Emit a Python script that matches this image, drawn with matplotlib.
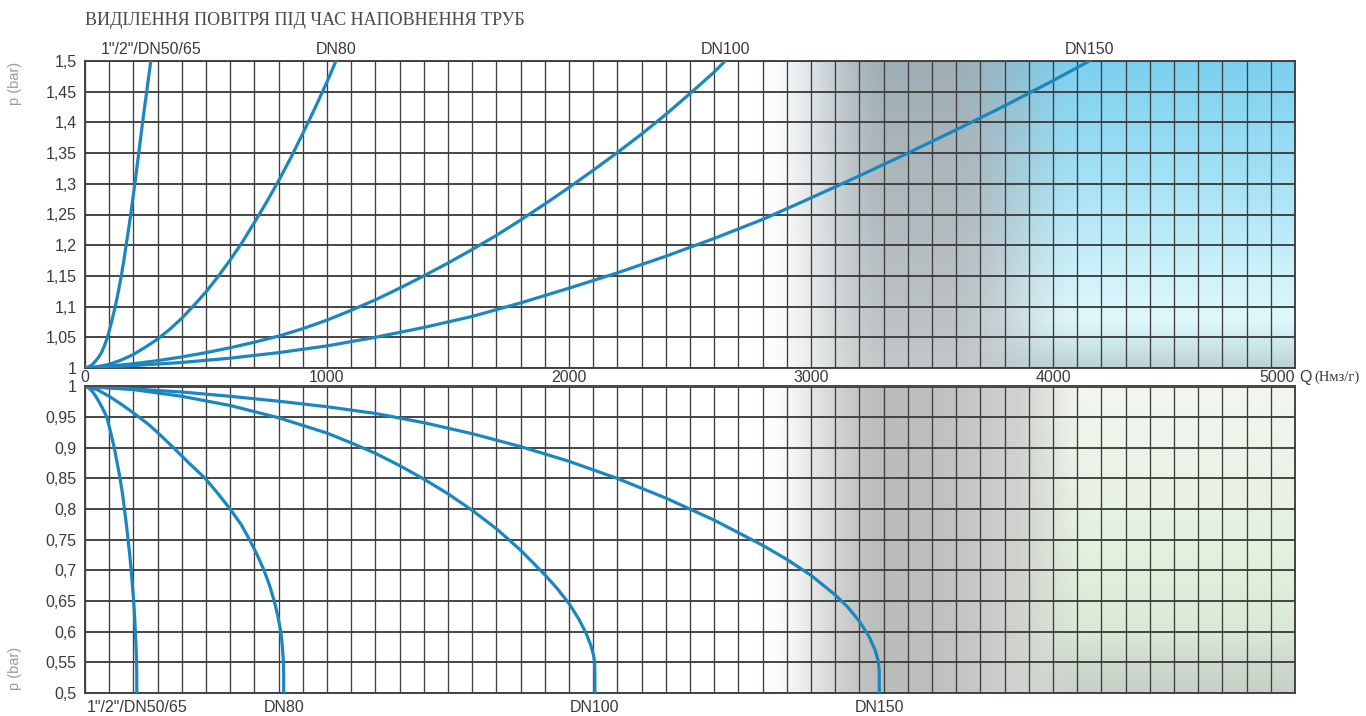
import numpy as np
import matplotlib
matplotlib.use("Agg")
import matplotlib.pyplot as plt

# ---------------------------------------------------------------- data
title = "ВИДІЛЕННЯ ПОВІТРЯ ПІД ЧАС НАПОВНЕННЯ ТРУБ"
series_names = ['1"/2"/DN50/65', "DN80", "DN100", "DN150"]

q_ticks = [0, 1000, 2000, 3000, 4000, 5000]
q_tick_labels = ["0", "1000", "2000", "3000", "4000", "5000"]
p_ticks_up = [1.0, 1.05, 1.1, 1.15, 1.2, 1.25, 1.3, 1.35, 1.4, 1.45, 1.5]
p_labels_up = ["1", "1,05", "1,1", "1,15", "1,2", "1,25", "1,3", "1,35", "1,4", "1,45", "1,5"]
p_ticks_down = [0.5, 0.55, 0.6, 0.65, 0.7, 0.75, 0.8, 0.85, 0.9, 0.95, 1.0]
p_labels_down = ["0,5", "0,55", "0,6", "0,65", "0,7", "0,75", "0,8", "0,85", "0,9", "0,95", "1"]

# overpressure branch (p > 1 bar), Q in Nm3/h
q_up_dn50 = [0, 12, 25, 35, 45, 56, 68, 80, 93, 109, 125, 137, 150, 160, 170, 180,
             189, 197, 206, 214, 222, 230, 238, 246, 255, 263, 272]
p_up_dn50 = [1.0, 1.0015, 1.004, 1.0075, 1.012, 1.0175, 1.025, 1.036, 1.05, 1.074, 1.1,
             1.123, 1.15, 1.174, 1.2, 1.226, 1.25, 1.274, 1.3, 1.325, 1.35, 1.375, 1.4,
             1.424, 1.45, 1.474, 1.5]

q_up_dn80 = [0, 50, 100, 150, 200, 250, 300, 350, 400, 450, 500, 550, 600, 650, 700,
             750, 800, 850, 900, 950, 1000, 1037]
p_up_dn80 = [1.0, 1.002, 1.006, 1.013, 1.022, 1.034, 1.047, 1.063, 1.081, 1.102, 1.124,
             1.149, 1.176, 1.205, 1.237, 1.270, 1.305, 1.342, 1.382, 1.423, 1.466, 1.5]

q_up_dn100 = [0, 100, 200, 300, 400, 500, 600, 700, 800, 900, 1000, 1100, 1200, 1300,
              1400, 1500, 1600, 1700, 1800, 1900, 2000, 2100, 2200, 2300, 2400, 2500,
              2600, 2645]
p_up_dn100 = [1.0, 1.003, 1.007, 1.012, 1.018, 1.025, 1.033, 1.042, 1.052, 1.064, 1.078,
              1.094, 1.111, 1.130, 1.150, 1.171, 1.193, 1.216, 1.241, 1.267, 1.294, 1.322,
              1.351, 1.381, 1.413, 1.447, 1.482, 1.5]

q_up_dn150 = [0, 200, 400, 600, 800, 1000, 1200, 1400, 1600, 1800, 2000, 2200, 2400,
              2600, 2800, 3000, 3200, 3400, 3600, 3800, 4000, 4150]
p_up_dn150 = [1.0, 1.004, 1.009, 1.016, 1.025, 1.036, 1.050, 1.066, 1.084, 1.106, 1.130,
              1.155, 1.182, 1.211, 1.242, 1.277, 1.313, 1.350, 1.388, 1.427, 1.468, 1.5]

# vacuum branch (p < 1 bar)
q_down_dn50 = [0, 10, 20, 30, 41, 52, 65, 77, 90, 105, 121, 133, 145, 155, 163, 171,
               178, 185, 191, 196, 201, 205, 208, 211, 213, 214, 214]
p_down_dn50 = [1.0, 0.999, 0.996, 0.992, 0.986, 0.979, 0.97, 0.961, 0.95, 0.927, 0.9,
               0.875, 0.85, 0.825, 0.8, 0.775, 0.75, 0.725, 0.7, 0.675, 0.65, 0.625, 0.6,
               0.575, 0.55, 0.53, 0.5]

q_down_dn80 = [0, 50, 100, 150, 200, 260, 300, 366, 430, 497, 550, 600, 645, 680, 712,
               740, 763, 782, 797, 809, 816, 820, 821, 821]
p_down_dn80 = [1.0, 0.995, 0.984, 0.971, 0.957, 0.939, 0.925, 0.9, 0.875, 0.85, 0.825,
               0.8, 0.775, 0.75, 0.725, 0.7, 0.675, 0.65, 0.625, 0.6, 0.575, 0.55, 0.53, 0.5]

q_down_dn100 = [0, 200, 400, 600, 800, 1000, 1100, 1200, 1300, 1400, 1500, 1600, 1700,
                1800, 1900, 1950, 2000, 2040, 2070, 2090, 2102, 2106, 2107, 2107]
p_down_dn100 = [1.0, 0.995, 0.984, 0.969, 0.949, 0.924, 0.908, 0.891, 0.871, 0.849, 0.825,
                0.798, 0.768, 0.733, 0.693, 0.671, 0.646, 0.621, 0.598, 0.578, 0.561, 0.55,
                0.53, 0.5]

q_down_dn150 = [0, 200, 400, 600, 800, 1000, 1200, 1400, 1600, 1800, 2000, 2200, 2400,
                2600, 2800, 2900, 3000, 3100, 3150, 3200, 3240, 3265, 3278, 3282, 3282]
p_down_dn150 = [1.0, 0.996, 0.991, 0.984, 0.976, 0.967, 0.956, 0.941, 0.923, 0.902, 0.878,
                0.850, 0.818, 0.782, 0.741, 0.718, 0.692, 0.660, 0.641, 0.617, 0.592, 0.570,
                0.552, 0.535, 0.5]

up_series = [(q_up_dn50, p_up_dn50), (q_up_dn80, p_up_dn80),
             (q_up_dn100, p_up_dn100), (q_up_dn150, p_up_dn150)]
down_series = [(q_down_dn50, p_down_dn50), (q_down_dn80, p_down_dn80),
               (q_down_dn100, p_down_dn100), (q_down_dn150, p_down_dn150)]

# ---------------------------------------------------------------- style
SANS = "Liberation Sans"
SERIF = "Liberation Serif"
CURVE = "#1a87c0"
GRID = "#3e3e3e"
TEXT = "#3a3a3a"
FS = 11.5


def smoothstep(x, a, b):
    t = np.clip((x - a) / (b - a), 0, 1)
    return t * t * (3 - 2 * t)


def ramp(v, knots, colors):
    c = np.asarray(colors, float) / 255.0
    return np.stack([np.interp(v, knots, c[:, i]) for i in range(3)], axis=-1)


def shade_top(q, p):
    white = np.ones(q.shape + (3,))
    grey = ramp(p, [1.0, 1.5], [(194, 199, 200), (158, 174, 182)])
    blue = ramp(p, [1.0, 1.04, 1.08, 1.15, 1.3, 1.5],
                [(188, 210, 212), (206, 233, 237), (222, 248, 252),
                 (206, 242, 250), (166, 226, 245), (122, 208, 240)])
    g = smoothstep(q, 2780, 3330)[..., None]
    b = smoothstep(q, 3550, 4150)[..., None]
    img = white * (1 - g) + grey * g
    return img * (1 - b) + blue * b


def shade_bottom(q, p):
    white = np.ones(q.shape + (3,))
    grey = ramp(q, [3300, 3500, 3950], [(186, 187, 187), (190, 191, 190), (212, 215, 210)])
    green = ramp(p, [0.5, 0.55, 0.6, 0.7, 0.85, 1.0],
                 [(198, 208, 198), (207, 219, 205), (218, 233, 212),
                  (225, 240, 218), (234, 244, 230), (242, 246, 239)])
    g = smoothstep(q, 2780, 3330)[..., None]
    b = smoothstep(q, 3850, 4150)[..., None]
    img = white * (1 - g) + grey * g
    return img * (1 - b) + green * b


fig = plt.figure(figsize=(13.66, 7.16), dpi=100)
W, H = 1366, 716
ax_up = fig.add_axes([85 / W, 1 - 368 / H, 1210 / W, 307 / H])
ax_dn = fig.add_axes([85 / W, 1 - 693 / H, 1210 / W, 306.5 / H])

qq = np.linspace(0, 5000, 1000)
for ax, (lo, hi), shade in [(ax_up, (1.0, 1.5), shade_top), (ax_dn, (0.5, 1.0), shade_bottom)]:
    pp = np.linspace(lo, hi, 300)
    Q, P = np.meshgrid(qq, pp)
    ax.imshow(shade(Q, P), extent=[0, 5000, lo, hi], origin="lower",
              aspect="auto", interpolation="bilinear", zorder=0)
    ax.set_xlim(0, 5000)
    ax.set_ylim(lo, hi)
    for q in range(0, 5001, 100):
        ax.axvline(q, color=GRID, lw=0.95, zorder=1)
    for k in range(11):
        ax.axhline(lo + k * 0.05, color=GRID, lw=1.35, zorder=1)
    for s in ax.spines.values():
        s.set_color(GRID)
        s.set_linewidth(1.35)
    ax.tick_params(length=0, labelsize=FS, labelcolor=TEXT)

# overpressure panel
for (q, p), name in zip(up_series, series_names):
    ax_up.plot(q, p, color=CURVE, lw=2.3, solid_joinstyle="round", zorder=3)
    ax_up.annotate(name, xy=(q[-1], p[-1]), xytext=(0, 8.5), textcoords="offset points",
                   ha="center", va="center", fontsize=FS, color=TEXT, family=SANS,
                   annotation_clip=False)
ax_up.set_yticks(p_ticks_up)
ax_up.set_yticklabels(p_labels_up, family=SANS)
ax_up.set_xticks(q_ticks)
ax_up.set_xticklabels(q_tick_labels, family=SANS)
ax_up.tick_params(axis="x", pad=1.2)
ax_up.tick_params(axis="y", pad=6)
ax_up.get_xticklabels()[-1].set_horizontalalignment("right")

ax_up.annotate("Q", xy=(1, 0), xycoords="axes fraction", xytext=(3, -6.6),
               textcoords="offset points", ha="left", va="center",
               fontsize=FS, color=TEXT, family=SANS, annotation_clip=False)
ax_up.annotate("(Нмз/г)", xy=(1, 0), xycoords="axes fraction", xytext=(14, -6.6),
               textcoords="offset points", ha="left", va="center",
               fontsize=10.5, color=TEXT, family=SERIF, annotation_clip=False)

# vacuum panel
for (q, p), name in zip(down_series, series_names):
    ax_dn.plot(q, p, color=CURVE, lw=2.3, solid_joinstyle="round", zorder=3)
    ax_dn.annotate(name, xy=(q[-1], p[-1]), xytext=(0, -10.3), textcoords="offset points",
                   ha="center", va="center", fontsize=FS, color=TEXT, family=SANS,
                   annotation_clip=False)
ax_dn.set_yticks(p_ticks_down)
ax_dn.set_yticklabels(p_labels_down, family=SANS)
ax_dn.set_xticks(q_ticks)
ax_dn.tick_params(axis="x", labelbottom=False)
ax_dn.tick_params(axis="y", pad=6)

# axis captions and heading
fig.text(15 / W, 1 - 83 / H, "p (bar)", rotation=90, ha="center", va="center",
         fontsize=10.5, color="#9a9a9a", family=SANS)
fig.text(15 / W, 1 - 668 / H, "p (bar)", rotation=90, ha="center", va="center",
         fontsize=10.5, color="#9a9a9a", family=SANS)
fig.text(85 / W, 1 - 20.5 / H, title, ha="left", va="center",
         fontsize=13, color="#4a4a4a", family=SERIF)

fig.savefig("out.png", dpi=100, facecolor="white")
